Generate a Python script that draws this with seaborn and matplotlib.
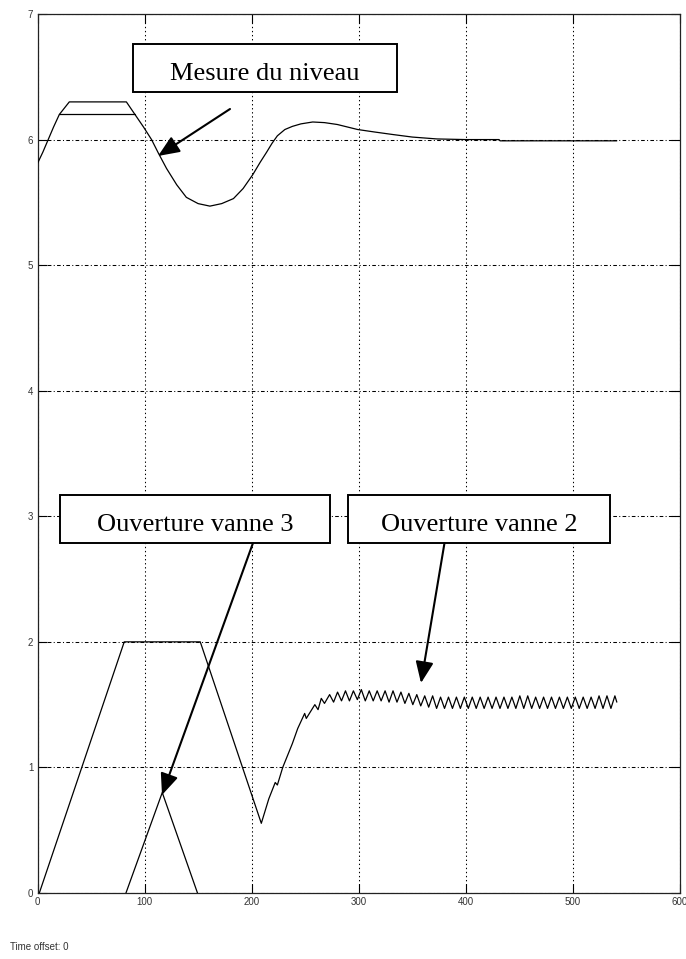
import numpy as np
import pandas as pd
import matplotlib
matplotlib.use("Agg")
import matplotlib.pyplot as plt
import seaborn as sns
from matplotlib.patches import Rectangle, FancyArrowPatch

# ---------------- data ----------------
level_t = [0, 5, 10, 15, 20.4, 29.7, 83, 91, 99, 106.5,
           113, 120.5, 130, 139, 150, 161, 172, 183, 192, 201,
           208, 214, 219, 224, 231, 238, 246, 257, 268, 280,
           299, 315, 332, 350, 373, 400, 431, 432, 541]
level_y = [5.81, 5.90, 6.00, 6.10, 6.20, 6.30, 6.30, 6.20, 6.10, 6.00,
           5.89, 5.77, 5.64, 5.54, 5.49, 5.47, 5.49, 5.53, 5.61, 5.72,
           5.82, 5.90, 5.97, 6.03, 6.08, 6.105, 6.125, 6.14, 6.135, 6.12,
           6.08, 6.06, 6.04, 6.02, 6.005, 6.0, 6.0, 5.99, 5.99]

level_cap_t = [20.4, 91]
level_cap_y = [6.2, 6.2]

vanne2_t = [1.7, 81.0, 152.0, 209.0, 216.0, 222.0, 224.0, 229.0,
            238.0, 243.0, 249.5, 251.0, 259.0, 262.0, 265.0, 268.0,
            272.8, 276.5, 280.2, 283.9, 287.6, 291.3, 295.0, 298.7,
            302.4, 306.1, 309.8, 313.5, 317.2, 320.9, 324.6, 328.3,
            332.0, 335.7, 339.4, 343.1, 346.8, 350.5, 354.2, 357.9,
            361.6, 365.3, 369.0, 372.7, 376.4, 380.1, 383.8, 387.5,
            391.2, 394.9, 398.6, 402.3, 406.0, 409.7, 413.4, 417.1,
            420.8, 424.5, 428.2, 431.9, 435.6, 439.3, 443.0, 446.7,
            450.4, 454.1, 457.8, 461.5, 465.2, 468.9, 472.6, 476.3,
            480.0, 483.7, 487.4, 491.1, 494.8, 498.5, 502.2, 505.9,
            509.6, 513.3, 517.0, 520.7, 524.4, 528.1, 531.8, 535.5,
            539.2, 541.0]
vanne2_y = [0.0, 2.0, 2.0, 0.555, 0.75, 0.88, 0.86, 1.00,
            1.19, 1.31, 1.43, 1.39, 1.50, 1.46, 1.55, 1.51,
            1.58, 1.52, 1.60, 1.53, 1.61, 1.53, 1.61, 1.54,
            1.62, 1.53, 1.61, 1.53, 1.61, 1.53, 1.61, 1.52,
            1.61, 1.52, 1.60, 1.51, 1.59, 1.50, 1.58, 1.49,
            1.57, 1.48, 1.57, 1.47, 1.56, 1.47, 1.56, 1.47,
            1.56, 1.47, 1.56, 1.47, 1.56, 1.47, 1.56, 1.47,
            1.56, 1.47, 1.56, 1.47, 1.56, 1.47, 1.56, 1.47,
            1.57, 1.47, 1.57, 1.47, 1.56, 1.47, 1.56, 1.47,
            1.56, 1.47, 1.56, 1.47, 1.56, 1.47, 1.56, 1.47,
            1.56, 1.47, 1.56, 1.47, 1.57, 1.47, 1.57, 1.47,
            1.57, 1.52]

vanne3_t = [82.6, 116.5, 149.4]
vanne3_y = [0.0, 0.80, 0.0]

x_ticks = [0, 100, 200, 300, 400, 500, 600]
y_ticks = [0, 1, 2, 3, 4, 5, 6, 7]

label_level = "Mesure du niveau"
label_v3 = "Ouverture vanne 3"
label_v2 = "Ouverture vanne 2"
footer = "Time offset: 0"

# ---------------- figure ----------------
sns.set_theme(style="white")
plt.rcParams["font.family"] = ["Liberation Sans", "DejaVu Sans"]

W, H = 686, 959
fig = plt.figure(figsize=(W / 100, H / 100), dpi=100)
fig.patch.set_facecolor("white")

def fx(x):
    return x / W

def fy(y):
    return 1 - y / H

ax_l, ax_r, ax_t, ax_b = 37.5, 680.0, 14.0, 893.0
ax = fig.add_axes([fx(ax_l), fy(ax_b), fx(ax_r) - fx(ax_l), fy(ax_t) - fy(ax_b)])
ax.set_facecolor("white")

series = [
    (level_t, level_y),
    (level_cap_t, level_cap_y),
    (vanne2_t, vanne2_y),
    (vanne3_t, vanne3_y),
]
for t, y in series:
    df = pd.DataFrame({"t": t, "y": y})
    sns.lineplot(data=df, x="t", y="y", ax=ax, color="black", linewidth=0.9,
                 estimator=None, sort=False, legend=False, zorder=3)

ax.set_xlim(0, 600)
ax.set_ylim(0, 7)
ax.set_xticks(x_ticks)
ax.set_yticks(y_ticks)
ax.set_xticklabels([str(v) for v in x_ticks])
ax.set_yticklabels([str(v) for v in y_ticks])
ax.set_xlabel("")
ax.set_ylabel("")

ax.xaxis.grid(True, linestyle=(0, (1.3, 2.6)), color="black", linewidth=0.75)
ax.yaxis.grid(True, linestyle=(0, (3.5, 2.2, 1.0, 2.2)), color="black", linewidth=0.75)
ax.set_axisbelow(True)

ax.tick_params(axis="both", which="both", direction="in", length=6.5, width=0.8,
               color="black", labelsize=7, labelcolor="#333333", pad=3,
               bottom=True, left=True, top=True, right=True)
for s in ax.spines.values():
    s.set_visible(True)
    s.set_color("#222222")
    s.set_linewidth(0.9)

# ---------------- annotation boxes ----------------
serif = ["Liberation Serif", "DejaVu Serif"]

def box(x0, y0, x1, y1, text, baseline):
    rect = Rectangle((fx(x0), fy(y1)), fx(x1) - fx(x0), fy(y0) - fy(y1),
                     transform=fig.transFigure, facecolor="white",
                     edgecolor="black", linewidth=1.4, zorder=5)
    fig.add_artist(rect)
    fig.text(fx((x0 + x1) / 2), fy(baseline), text, ha="center", va="baseline",
             fontsize=19, family=serif, color="black", zorder=6)

box(133, 44, 397, 92, label_level, 80)
box(60, 495, 330, 543, label_v3, 531)
box(348, 495, 610, 543, label_v2, 531)

def arrow(x0, y0, x1, y1):
    a = FancyArrowPatch((fx(x0), fy(y0)), (fx(x1), fy(y1)),
                        transform=fig.transFigure,
                        arrowstyle="-|>,head_length=1.0,head_width=0.42",
                        mutation_scale=13, linewidth=1.5, color="black",
                        shrinkA=0, shrinkB=0, zorder=6)
    fig.add_artist(a)

arrow(230, 109, 158, 156)
arrow(253, 543, 162, 795)
arrow(444.5, 543, 421, 683)

fig.text(fx(10), fy(947), footer, ha="left", va="center", fontsize=7,
         color="#333333")

fig.savefig("out.png", dpi=100, facecolor="white")
